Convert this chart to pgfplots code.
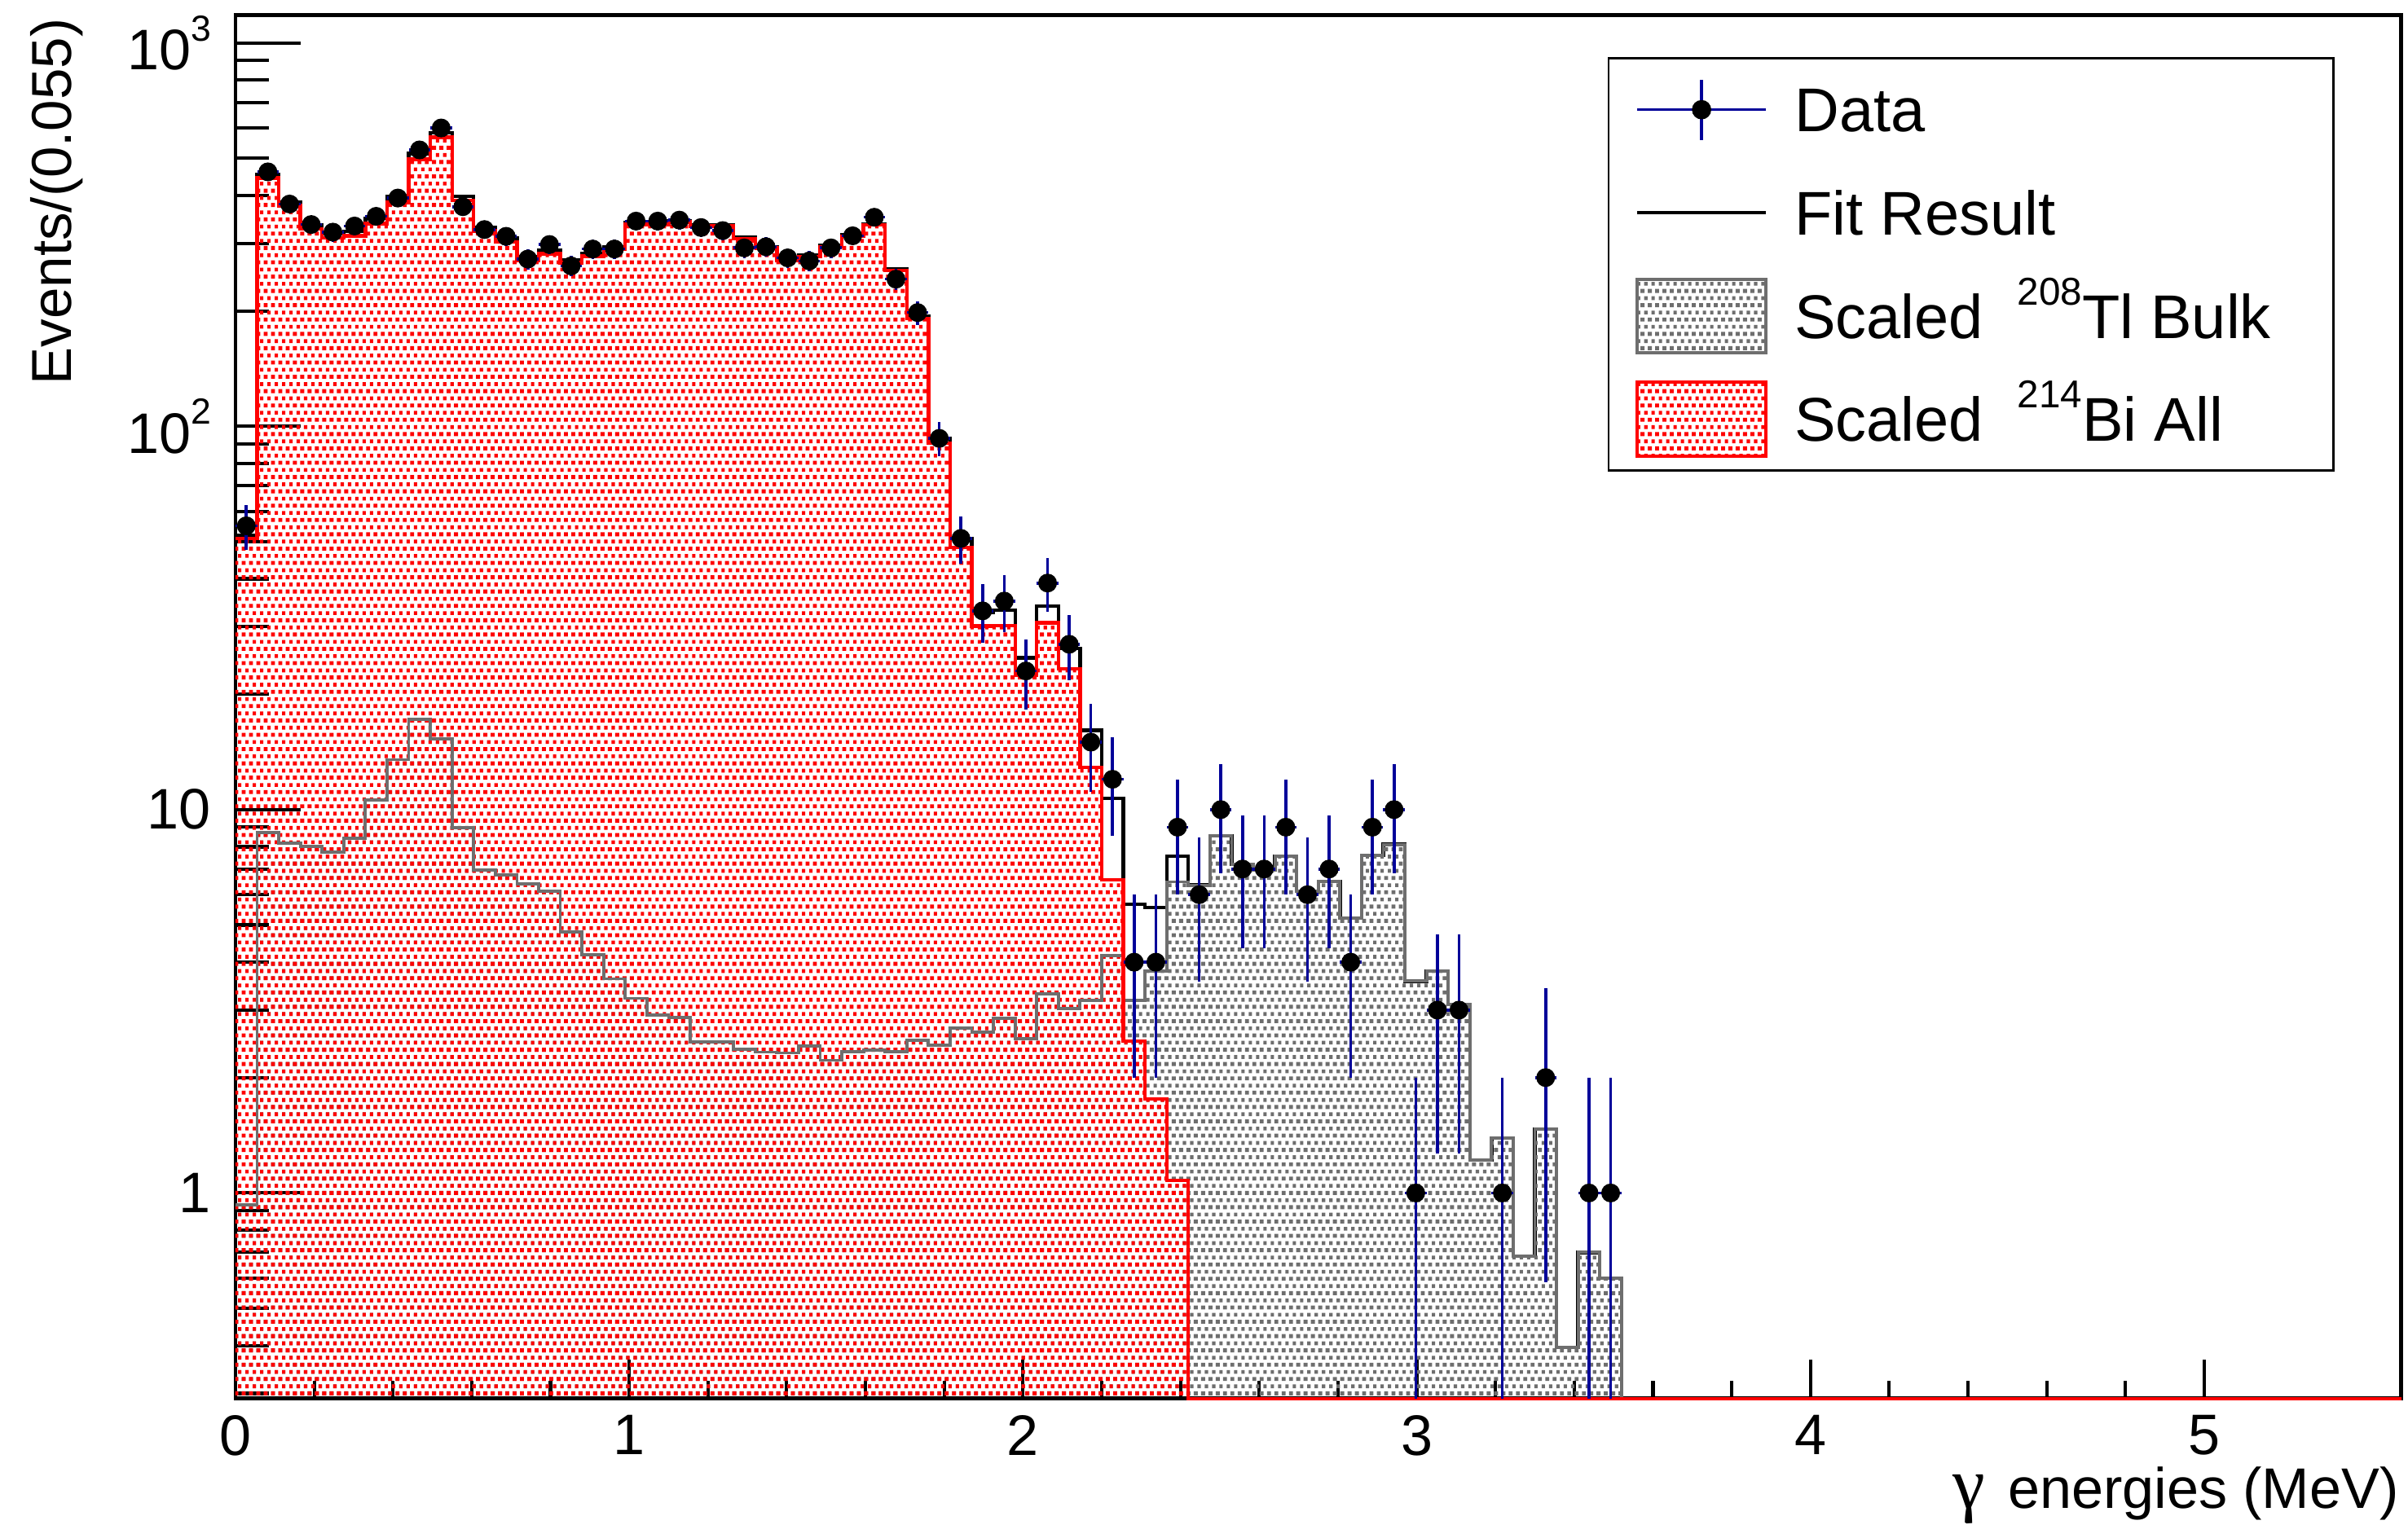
\documentclass[border=0pt]{standalone}
\usepackage{fontspec}
\setmainfont{Liberation Sans}
\newfontfamily\symf{Liberation Serif}
\usepackage{pgfplots}
\pgfplotsset{compat=1.18}
\usepackage{pgfplotstable}
\usetikzlibrary{patterns}
\definecolor{navyb}{rgb}{0,0,0.6}
\definecolor{tlgray}{RGB}{110,110,110}
\pgfdeclarepatternformonly{rootdots}{\pgfpoint{-0.1pt}{-0.1pt}}{\pgfpoint{1.855pt}{3.532pt}}{\pgfpoint{1.755pt}{3.432pt}}{\pgfpathrectangle{\pgfpointorigin}{\pgfpoint{0.95pt}{0.95pt}}\pgfpathrectangle{\pgfpoint{0.88pt}{1.716pt}}{\pgfpoint{0.8pt}{0.9pt}}\pgfusepath{fill}}
\newcommand{\supr}[1]{\raisebox{8pt}{\fontsize{9.3}{10}\selectfont #1}}
\newcommand{\supt}[1]{\raisebox{6.85pt}{\fontsize{8.7}{9}\selectfont #1}}
\pgfplotstableread{
x y
0 0.291
0 51
0.055 444
0.11 376
0.165 327
0.22 310
0.275 314
0.33 338
0.385 384
0.44 497
0.495 567
0.55 389
0.605 323
0.66 303
0.715 270
0.77 282
0.825 267
0.88 278
0.935 290
0.99 336
1.045 336
1.1 341
1.155 333
1.21 333
1.265 309
1.32 292
1.375 270
1.43 277
1.485 294
1.54 313
1.595 335
1.65 255
1.705 191
1.76 90.4
1.815 48.3
1.87 30.1
1.925 30.2
1.98 22.4
2.035 30.7
2.09 23.3
2.145 12.9
2.2 6.56
2.255 2.49
2.31 1.76
2.365 1.08
2.42 0.291
5.5 0.291
}\redtab
\pgfplotstableread{
x y
0 51
0.055 444
0.11 376
0.165 327
0.22 310
0.275 314
0.33 338
0.385 384
0.44 497
0.495 567
0.55 389
0.605 323
0.66 303
0.715 270
0.77 282
0.825 267
0.88 278
0.935 290
0.99 336
1.045 336
1.1 341
1.155 333
1.21 333
1.265 309
1.32 292
1.375 270
1.43 277
1.485 294
1.54 313
1.595 335
1.65 255
1.705 191
1.76 90.4
1.815 48.3
1.87 30.1
1.925 30.2
1.98 22.4
2.035 30.7
2.09 23.3
2.145 12.9
2.2 6.56
2.255 2.49
2.31 1.76
2.365 1.08
2.42 0.291
5.5 0.291
}\redline
\pgfplotstableread{
x y
0 0.291
0 0.93
0.055 8.72
0.11 8.17
0.165 8.03
0.22 7.76
0.275 8.43
0.33 10.6
0.385 13.5
0.44 17.2
0.495 15.3
0.55 8.97
0.605 6.97
0.66 6.75
0.715 6.40
0.77 6.13
0.825 4.80
0.88 4.18
0.935 3.62
0.99 3.22
1.045 2.91
1.1 2.87
1.155 2.48
1.21 2.48
1.265 2.37
1.32 2.33
1.375 2.32
1.43 2.42
1.485 2.22
1.54 2.34
1.595 2.36
1.65 2.34
1.705 2.50
1.76 2.43
1.815 2.69
1.87 2.63
1.925 2.86
1.98 2.53
2.035 3.31
2.09 3.03
2.145 3.18
2.2 4.17
2.255 3.18
2.31 3.8
2.365 6.48
2.42 6.35
2.475 8.55
2.53 7.21
2.585 6.95
2.64 7.57
2.695 6.13
2.75 6.50
2.805 5.22
2.86 7.60
2.915 8.11
2.97 3.57
3.025 3.79
3.08 3.10
3.135 1.22
3.19 1.39
3.245 0.685
3.3 1.47
3.355 0.395
3.41 0.70
3.465 0.60
3.52 0.291
5.5 0.291
}\graytab
\pgfplotstableread{
x y
0 0.93
0.055 8.72
0.11 8.17
0.165 8.03
0.22 7.76
0.275 8.43
0.33 10.6
0.385 13.5
0.44 17.2
0.495 15.3
0.55 8.97
0.605 6.97
0.66 6.75
0.715 6.40
0.77 6.13
0.825 4.80
0.88 4.18
0.935 3.62
0.99 3.22
1.045 2.91
1.1 2.87
1.155 2.48
1.21 2.48
1.265 2.37
1.32 2.33
1.375 2.32
1.43 2.42
1.485 2.22
1.54 2.34
1.595 2.36
1.65 2.34
1.705 2.50
1.76 2.43
1.815 2.69
1.87 2.63
1.925 2.86
1.98 2.53
2.035 3.31
2.09 3.03
2.145 3.18
2.2 4.17
2.255 3.18
2.31 3.8
2.365 6.48
2.42 6.35
2.475 8.55
2.53 7.21
2.585 6.95
2.64 7.57
2.695 6.13
2.75 6.50
2.805 5.22
2.86 7.60
2.915 8.11
2.97 3.57
3.025 3.79
3.08 3.10
3.135 1.22
3.19 1.39
3.245 0.685
3.3 1.47
3.355 0.395
3.41 0.70
3.465 0.60
3.52 0.291
5.5 0.291
}\grayline
\pgfplotstableread{
x y
0 51.9
0.055 452.7
0.11 384.2
0.165 335.0
0.22 317.8
0.275 322.4
0.33 348.6
0.385 397.5
0.44 514.2
0.495 582.3
0.55 398.0
0.605 330.0
0.66 309.8
0.715 276.4
0.77 288.1
0.825 271.8
0.88 282.2
0.935 293.6
0.99 339.2
1.045 338.9
1.1 343.9
1.155 335.5
1.21 335.5
1.265 311.4
1.32 294.3
1.375 272.3
1.43 279.4
1.485 296.2
1.54 315.3
1.595 337.4
1.65 257.3
1.705 193.5
1.76 92.8
1.815 51.0
1.87 32.7
1.925 33.1
1.98 24.9
2.035 34.0
2.09 26.3
2.145 16.1
2.2 10.7
2.255 5.67
2.31 5.56
2.365 7.56
2.42 6.35
2.475 8.55
2.53 7.21
2.585 6.95
2.64 7.57
2.695 6.13
2.75 6.50
2.805 5.22
2.86 7.60
2.915 8.11
2.97 3.57
3.025 3.79
3.08 3.10
3.135 1.22
3.19 1.39
3.245 0.685
3.3 1.47
3.355 0.395
3.41 0.70
3.465 0.60
3.52 0.291
5.5 0.291
}\fittab
\pgfplotstableread{
x y ex ep em
0.0275 55 0.0275 7.416 7.416
0.0825 461 0.0275 21.47 21.47
0.1375 380 0.0275 19.49 19.49
0.1925 336 0.0275 18.33 18.33
0.2475 321 0.0275 17.92 17.92
0.3025 333 0.0275 18.25 18.25
0.3575 353 0.0275 18.79 18.79
0.4125 394 0.0275 19.85 19.85
0.4675 526 0.0275 22.93 22.93
0.5225 600 0.0275 24.49 24.49
0.5775 374 0.0275 19.34 19.34
0.6325 326 0.0275 18.06 18.06
0.6875 313 0.0275 17.69 17.69
0.7425 273 0.0275 16.52 16.52
0.7975 298 0.0275 17.26 17.26
0.8525 262 0.0275 16.19 16.19
0.9075 290 0.0275 17.03 17.03
0.9625 290 0.0275 17.03 17.03
1.0175 343 0.0275 18.52 18.52
1.0725 343 0.0275 18.52 18.52
1.1275 345 0.0275 18.57 18.57
1.1825 330 0.0275 18.17 18.17
1.2375 324 0.0275 18.00 18.00
1.2925 292 0.0275 17.09 17.09
1.3475 294 0.0275 17.15 17.15
1.4025 275 0.0275 16.58 16.58
1.4575 270 0.0275 16.43 16.43
1.5125 292 0.0275 17.09 17.09
1.5675 314 0.0275 17.72 17.72
1.6225 351 0.0275 18.73 18.73
1.6775 242 0.0275 15.56 15.56
1.7325 198 0.0275 14.07 14.07
1.7875 93 0.0275 9.644 9.644
1.8425 51 0.0275 7.141 7.141
1.8975 33 0.0275 5.745 5.745
1.9525 35 0.0275 5.916 5.916
2.0075 23 0.0275 4.796 4.796
2.0625 39 0.0275 6.245 6.245
2.1175 27 0.0275 5.196 5.196
2.1725 15 0.0275 3.873 3.873
2.2275 12 0.0275 3.464 3.464
2.2825 4 0.0275 2 2
2.3375 4 0.0275 2 2
2.3925 9 0.0275 3 3
2.4475 6 0.0275 2.449 2.449
2.5025 10 0.0275 3.162 3.162
2.5575 7 0.0275 2.646 2.646
2.6125 7 0.0275 2.646 2.646
2.6675 9 0.0275 3 3
2.7225 6 0.0275 2.449 2.449
2.7775 7 0.0275 2.646 2.646
2.8325 4 0.0275 2 2
2.8875 9 0.0275 3 3
2.9425 10 0.0275 3.162 3.162
2.9975 1 0.0275 1 0.709
3.0525 3 0.0275 1.732 1.732
3.1075 3 0.0275 1.732 1.732
3.2175 1 0.0275 1 0.709
3.3275 2 0.0275 1.414 1.414
3.4375 1 0.0275 1 0.709
3.4925 1 0.0275 1 0.709
}\datatab
\begin{document}
\begin{tikzpicture}
\begin{axis}[
  name=axx, scale only axis, width=18.24cm, height=11.656cm,
  xmin=0, xmax=5.5, ymin=0, ymax=1,
  xtick={0,1,2,3,4,5}, xticklabels={0,1,2,3,4,5}, minor x tick num=4,
  ytick=\empty,
  tick pos=left, tick align=inside,
  major tick length=0.33cm, minor tick length=0.15cm,
  tick style={black, line width=0.8pt},
  axis line style={line width=0.9pt},
  xticklabel style={font=\fontsize{13.7}{16}\selectfont, inner sep=0pt, yshift=-0.137cm},
  xlabel={{\symf\fontsize{17.5}{18}\selectfont γ}\hspace{0.4em}energies (MeV)},
  xlabel style={at={(axis description cs:0.9993,-0.0795)}, anchor=base east, inner sep=0pt, font=\fontsize{13.7}{16}\selectfont},
]
\end{axis}
\begin{axis}[
  name=ax, scale only axis, width=18.24cm, height=11.656cm,
  xmin=0, xmax=5.5, ymode=log, ymin=0.291, ymax=1183,
  clip=false,
  xtick=\empty,
  ytick={1,10,100,1000},
  yticklabels={1,10,10\supt{2},10\supt{3}},
  minor ytick={0.3,0.4,0.5,0.6,0.7,0.8,0.9,2,3,4,5,6,7,8,9,20,30,40,50,60,70,80,90,200,300,400,500,600,700,800,900},
  tick pos=left, tick align=inside,
  major tick length=0.55cm, minor tick length=0.28cm,
  tick style={black, line width=0.8pt},
  axis line style={line width=0.9pt},
  yticklabel style={font=\fontsize{13.7}{16}\selectfont, inner sep=0pt, xshift=-0.199cm},
  ylabel={Events/(0.055)},
  ylabel style={at={(axis description cs:-0.0756,0.998)}, anchor=base east, inner sep=0pt, font=\fontsize{13.5}{16}\selectfont},
  legend cell align=left,
  legend style={at={(axis description cs:0.9693,0.9696)}, anchor=north east, draw=black, line width=0.53pt, fill=white,
    inner xsep=0.2265cm, inner ysep=0pt, row sep=0pt, column sep=0pt,
    font=\fontsize{14.8}{18}\selectfont,
    nodes={inner sep=0pt, text height=0.621cm, text depth=0.248cm}},
]
\addlegendimage{legend image code/.code={
  \draw[navyb, line width=0.7pt] (0cm,0cm) -- (1.084cm,0cm);
  \draw[navyb, line width=0.7pt] (0.542cm,-0.254cm) -- (0.542cm,0.254cm);
  \fill[black] (0.542cm,0cm) circle (2.05pt);
  \path (1.317cm,0cm);}}
\addlegendimage{legend image code/.code={
  \draw[black, line width=0.7pt] (0cm,0cm) -- (1.084cm,0cm);
  \path (1.317cm,0cm);}}
\addlegendimage{legend image code/.code={
  \draw[tlgray, line width=0.8pt, pattern=rootdots, pattern color=tlgray] (0cm,-0.31cm) rectangle (1.084cm,0.31cm);
  \path (1.317cm,0cm);}}
\addlegendimage{legend image code/.code={
  \draw[red, line width=0.8pt, pattern=rootdots, pattern color=red] (0cm,-0.31cm) rectangle (1.084cm,0.31cm);
  \path (1.317cm,0cm);}}
\addplot[const plot, black, line width=0.85pt, forget plot] table[x=x,y=y] {\fittab};
\addplot[const plot, draw=none, pattern=rootdots, pattern color=tlgray, forget plot] table[x=x,y=y] {\graytab};
\addplot[const plot, draw=none, pattern=rootdots, pattern color=red, forget plot] table[x=x,y=y] {\redtab};
\addplot[const plot, tlgray, line width=0.75pt, forget plot] table[x=x,y=y] {\grayline};
\addplot[const plot, red, line width=0.85pt, forget plot] table[x=x,y=y] {\redline};
\addplot[only marks, mark=*, mark size=2.05pt, black, forget plot,
  error bars/.cd, x dir=both, x explicit, y dir=both, y explicit,
  error mark=none, error bar style={navyb, line width=0.7pt}]
  table[x=x, y=y, x error=ex, y error plus=ep, y error minus=em] {\datatab};
\legend{Data,Fit Result,Scaled\hspace{0.55em}\supr{208}Tl Bulk\hspace*{0.3cm},Scaled\hspace{0.55em}\supr{214}Bi All}
\end{axis}
\pgfresetboundingbox
\path[use as bounding box] ([xshift=-1.983cm,yshift=-1.059cm]ax.south west) rectangle ([xshift=0.058cm,yshift=0.126cm]ax.north east);
\end{tikzpicture}
\end{document}
